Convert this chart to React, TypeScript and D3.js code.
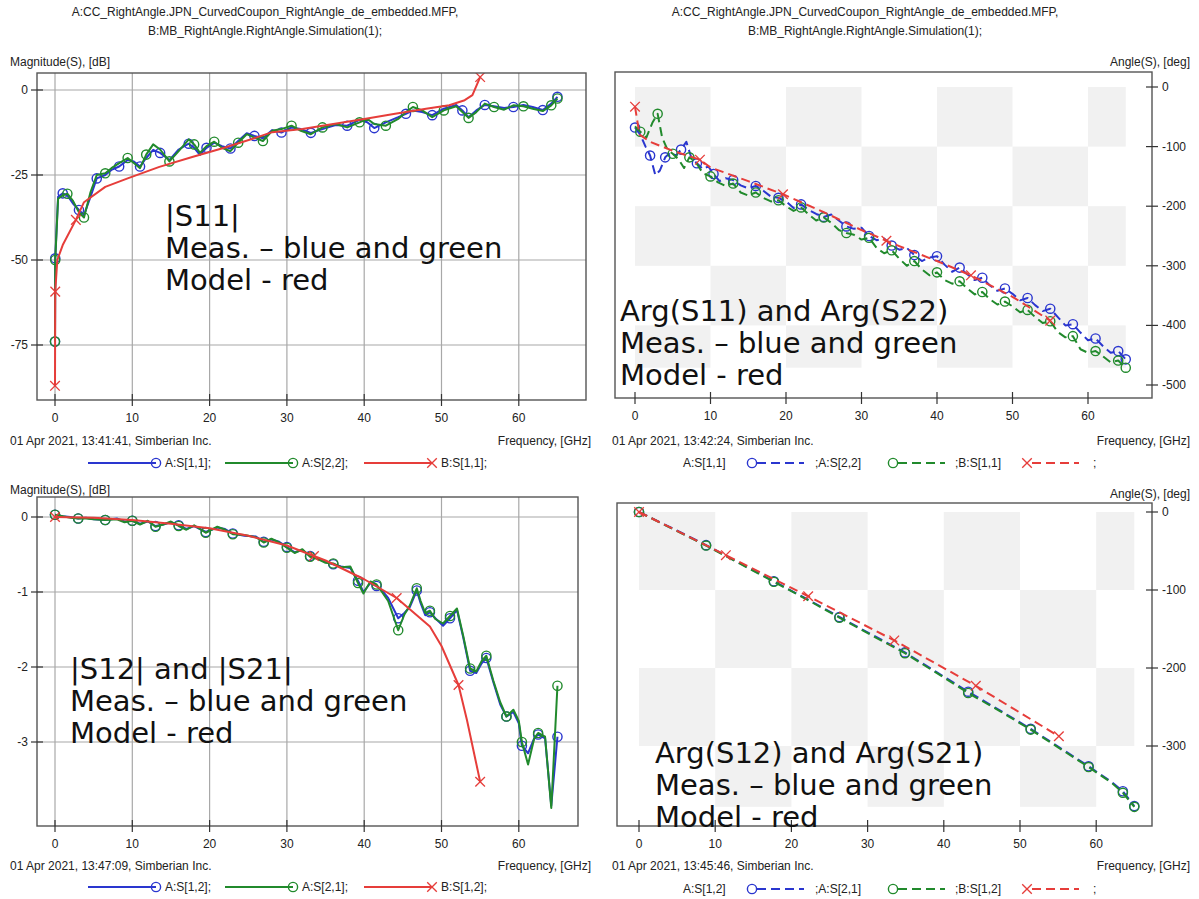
import React from "react";
import * as d3 from "d3";

type Pt = [number, number];

// ---------- text ----------
const titleA = "A:CC_RightAngle.JPN_CurvedCoupon_RightAngle_de_embedded.MFP,";
const titleB = "B:MB_RightAngle.RightAngle.Simulation(1);";
const stamps = [
  "01 Apr 2021, 13:41:41, Simberian Inc.",
  "01 Apr 2021, 13:42:24, Simberian Inc.",
  "01 Apr 2021, 13:47:09, Simberian Inc.",
  "01 Apr 2021, 13:45:46, Simberian Inc.",
];

// ---------- ticks ----------
const freqTicks = [0, 10, 20, 30, 40, 50, 60];
const s11MagTicks = [0, -25, -50, -75];
const s21MagTicks = [0, -1, -2, -3];
const argReflTicks = [0, -100, -200, -300, -400, -500];
const argTransTicks = [0, -100, -200, -300];

// ---------- |S11|, |S22| (dB) ----------
const magS11Meas: Pt[] = [
  [0, -74], [0.03, -49.5], [0.4, -31.4], [1.0, -30.4], [1.6, -31], [2.3, -33.3], [3.1, -35.3], [3.75, -36.8],
  [4.6, -31.4], [5.4, -26], [6.5, -25], [7.3, -23.5], [8.3, -22.5], [9.4, -20.6], [10.2, -21], [11.0, -22.5],
  [11.8, -20], [12.7, -17.6], [13.6, -18.5], [14.8, -20.6], [16, -17.5], [17.3, -15.8], [18.0, -17], [18.75, -19.1],
  [19.6, -17], [20.6, -15.5], [21.6, -16.5], [22.7, -17.2], [23.7, -15], [24.8, -12.7], [25.8, -13.5], [26.9, -14.2],
  [28.1, -11.8], [29.3, -12.5], [30.6, -11], [31.8, -11.5], [33.1, -12.6], [34.6, -11.5], [36.3, -10.3], [37.8, -10.5],
  [39.4, -8.8], [40.4, -9.5], [41.3, -11.2], [42.8, -9.5], [44.4, -8], [45.4, -7], [46.3, -6], [47.5, -6.5],
  [48.8, -7.4], [50.3, -5.5], [51.9, -4.4], [52.7, -6], [53.5, -8], [54.5, -6], [55.6, -4.4], [56.8, -4.8],
  [58.1, -5.3], [59.3, -5], [60.6, -4.4], [61.8, -5], [63.1, -5.9], [64.2, -4], [65, -2],
];
const magS22Meas: Pt[] = [
  [0, -74], [0.03, -50], [0.4, -32], [1.0, -31], [1.6, -30.5], [2.3, -32.5], [3.1, -36], [3.75, -37.5],
  [4.6, -30], [5.4, -25], [6.5, -24.5], [7.3, -23], [8.3, -21.5], [9.4, -20], [10.2, -21.5], [11.0, -23],
  [11.8, -19], [12.7, -16], [13.6, -17.5], [14.8, -21], [16, -18], [17.3, -14.5], [18.0, -16], [18.75, -18.5],
  [19.6, -16.5], [20.6, -15.2], [21.6, -17], [22.7, -18], [23.7, -15.5], [24.8, -13], [25.8, -14], [26.9, -15],
  [28.1, -12], [29.3, -11.5], [30.6, -10.5], [31.8, -12], [33.1, -13], [34.6, -11], [36.3, -10], [37.8, -11],
  [39.4, -9.5], [40.4, -8.5], [41.3, -10], [42.8, -10.5], [44.4, -8.5], [45.4, -6.5], [46.3, -5], [47.5, -6],
  [48.8, -8], [50.3, -6], [51.9, -4.8], [52.7, -6.5], [53.5, -8.2], [54.5, -6.5], [55.6, -4], [56.8, -5],
  [58.1, -5.8], [59.3, -4.5], [60.6, -4.8], [61.8, -5.5], [63.1, -6.2], [64.2, -4.5], [65, -2.5],
];
const magS11Model: Pt[] = [
  [0, -87], [0.03, -59.3], [0.3, -50], [1.0, -45.6], [2.7, -38.2], [3.75, -33], [6.5, -28.5], [9.4, -26],
  [13.5, -22.6], [17.75, -19.7], [21.9, -17], [26, -14], [28.1, -12.4], [32, -11.5], [36, -10], [40, -8.5],
  [44, -7], [48, -5.5], [51, -4.5], [53, -3], [54, -1.5], [55, 3.8],
];
const magS11ModelMarks = [0, 1, 4, 21];

// ---------- Arg(S11), Arg(S22) (deg) ----------
const argS11Meas: Pt[] = [
  [0, -68], [0.7, -80], [1.4, -100], [2.0, -115], [2.7, -148], [3.3, -140], [4.0, -118], [4.7, -110],
  [5.4, -115], [6.1, -105], [6.8, -92], [7.5, -120], [8.2, -128], [9.0, -138], [9.7, -133], [10.4, -146],
  [11.2, -158], [12, -153], [13, -156], [14, -165], [15, -170], [16, -166], [17, -174], [18, -184],
  [19, -186], [20, -192], [21, -203], [22, -197], [23, -206], [24, -213], [25, -218], [26, -214],
  [27, -224], [28, -234], [29, -238], [30, -236], [31, -250], [32, -257], [33, -254], [34, -266],
  [35, -273], [36, -270], [37, -282], [38, -292], [39, -286], [40, -284], [41, -298], [42, -310],
  [43, -303], [44, -314], [45, -324], [46, -320], [47, -333], [48, -342], [49, -338], [50, -347],
  [51, -358], [52, -354], [53, -366], [54, -376], [55, -372], [56, -386], [57, -400], [58, -398],
  [59, -412], [60, -425], [61, -422], [62, -435], [63, -446], [64, -443], [65, -457],
];
const argS22Meas: Pt[] = [
  [0, -66], [0.7, -75], [1.5, -85], [2.3, -60], [3.0, -45], [3.6, -85], [4.3, -105], [5.0, -112],
  [5.8, -122], [6.5, -136], [7.2, -118], [8, -125], [9, -145], [10, -150], [11, -160], [12, -166],
  [13, -162], [14, -177], [15, -182], [16, -177], [17, -186], [18, -192], [19, -190], [20, -200],
  [21, -208], [22, -202], [23, -214], [24, -224], [25, -219], [26, -228], [27, -240], [28, -245],
  [29, -248], [30, -256], [31, -253], [32, -270], [33, -279], [34, -274], [35, -288], [36, -300],
  [37, -292], [38, -306], [39, -316], [40, -311], [41, -324], [42, -330], [43, -326], [44, -338],
  [45, -348], [46, -344], [47, -356], [48, -365], [49, -360], [50, -368], [51, -378], [52, -374],
  [53, -386], [54, -396], [55, -393], [56, -411], [57, -420], [58, -418], [59, -440], [60, -446],
  [61, -443], [62, -452], [63, -462], [64, -459], [65, -471],
];
const argS11Model: Pt[] = [
  [0, -33], [0.6, -80], [2, -92], [5, -107], [8.6, -122], [10, -135], [15, -158], [19.6, -180],
  [25, -210], [30, -240], [33.3, -258], [35, -267], [40, -292], [44.5, -316], [50, -352], [55, -392],
];
const argS11ModelMarks = [0, 4, 7, 10, 13, 15];

// ---------- |S12|, |S21| (dB) ----------
const magS12Meas: Pt[] = [
  [0, 0.03], [1, 0.01], [2, 0], [3, -0.02], [4, -0.01], [5, -0.03], [6.5, -0.04], [8, -0.02],
  [9, -0.06], [10, -0.05], [11, -0.09], [12, -0.06], [13, -0.12], [14, -0.1], [15, -0.07], [16, -0.11],
  [17, -0.16], [18, -0.12], [19.5, -0.2], [21, -0.14], [22, -0.16], [23, -0.22], [24.5, -0.25], [26, -0.26],
  [27, -0.33], [28, -0.3], [29, -0.33], [30, -0.4], [31, -0.47], [32, -0.44], [33, -0.52], [34, -0.55],
  [35, -0.6], [36, -0.63], [37, -0.66], [38.2, -0.68], [39.2, -0.85], [39.9, -1.0], [40.8, -0.88], [41.6, -0.92],
  [42.3, -0.98], [43.1, -1.08], [44.4, -1.35], [45.2, -1.28], [45.9, -1.2], [46.8, -0.98], [47.3, -1.15], [47.9, -1.31],
  [48.5, -1.27], [49.2, -1.35], [50.2, -1.45], [51.1, -1.35], [52, -1.24], [52.8, -1.6], [53.7, -2.05], [54.5, -2.08],
  [55.2, -1.95], [55.8, -1.88], [56.7, -2.2], [57.6, -2.5], [58.4, -2.66], [59.3, -2.6], [60, -2.75], [60.4, -3.05],
  [61.2, -3.15], [62, -2.95], [62.5, -2.9], [63.4, -2.95], [64.2, -3.85], [65, -2.93],
];
const magS21Meas: Pt[] = [
  [0, 0.03], [1, 0.01], [2, -0.01], [3, -0.02], [4, -0.02], [5, -0.03], [6.5, -0.04], [8, -0.03],
  [9, -0.07], [10, -0.05], [11, -0.1], [12, -0.05], [13, -0.13], [14, -0.1], [15, -0.06], [16, -0.12],
  [17, -0.17], [18, -0.11], [19.5, -0.21], [21, -0.13], [22, -0.17], [23, -0.23], [24.5, -0.24], [26, -0.27],
  [27, -0.34], [28, -0.29], [29, -0.34], [30, -0.41], [31, -0.48], [32, -0.43], [33, -0.53], [34, -0.56],
  [35, -0.61], [36, -0.62], [37, -0.67], [38.2, -0.66], [39.2, -0.88], [39.9, -1.02], [40.8, -0.86], [41.6, -0.9],
  [42.3, -1.0], [43.1, -1.12], [44.4, -1.51], [45.2, -1.3], [45.9, -1.18], [46.8, -0.95], [47.3, -1.12], [47.9, -1.28],
  [48.5, -1.25], [49.2, -1.36], [50.2, -1.42], [51.1, -1.32], [52, -1.22], [52.8, -1.58], [53.7, -2.02], [54.5, -2.06],
  [55.2, -1.92], [55.8, -1.85], [56.7, -2.18], [57.6, -2.47], [58.4, -2.66], [59.3, -2.57], [60, -2.72], [60.4, -3.0],
  [61.2, -3.3], [62, -2.95], [62.5, -2.88], [63.4, -2.93], [64.2, -3.88], [65, -2.25],
];
const magS12Model: Pt[] = [
  [0, 0], [5, -0.01], [10, -0.04], [15, -0.09], [20, -0.15], [25, -0.25], [30, -0.38], [33.5, -0.52],
  [35, -0.58], [40, -0.83], [44.2, -1.08], [48.5, -1.46], [50, -1.72], [52.2, -2.24], [53.3, -2.71], [55, -3.53],
];
const magS12ModelMarks = [0, 7, 10, 13, 15];

// ---------- Arg(S12), Arg(S21) (deg) ----------
const argS12Meas: Pt[] = [
  [0, 0], [4.4, -21], [8.8, -42.5], [13.2, -65.5], [17.7, -88.8], [22, -111.5], [26.3, -134.6], [30.6, -157.5],
  [34.9, -180], [39, -205], [43.2, -230.4], [47.3, -254], [51.4, -278], [55.2, -302], [59, -326], [62, -346],
  [63.5, -358], [65, -377],
];
const argS21Meas: Pt[] = [
  [0, 0], [4.4, -21.5], [8.8, -43], [13.2, -66], [17.7, -89.5], [22, -112], [26.3, -135.5], [30.6, -158.5],
  [34.9, -181], [39, -206], [43.2, -232], [47.3, -255], [51.4, -279], [55.2, -303], [59, -327], [62, -347],
  [63.5, -360], [65, -378],
];
const argS12Model: Pt[] = [
  [0, 0], [11.4, -55.4], [22.2, -108], [33.5, -164.6], [44.2, -222.9], [55.1, -287.5],
];
const argS12ModelMarks = [0, 1, 2, 3, 4, 5];

// ---------- styling ----------
const BLUE = "#2a36cf";
const GREEN = "#218a2c";
const RED = "#e63d3a";
const SMALL_FONT = "'Liberation Sans', Arial, sans-serif";
const BIG_FONT = "'DejaVu Sans', Verdana, sans-serif";

type Series = {
  data: Pt[];
  color: string;
  marker: "o" | "x";
  marks: number[];
};

// indices of the points that carry a marker: every `step`-th one plus the last
const every = (data: Pt[], step: number, start: number, extra: number[] = []) =>
  Array.from(
    new Set(
      data
        .map((_, i) => i)
        .filter((i) => i >= start && (i - start) % step === 0)
        .concat(extra, [data.length - 1])
    )
  );

type PanelCfg = {
  id: string;
  box: [number, number, number, number];
  x0: number;
  k: number;
  yDom: [number, number];
  yRng: [number, number];
  yTicks: number[];
  axisSide: "left" | "right";
  grid: boolean;
  checker: boolean;
  dashed: boolean;
  series: Series[];
};

function Marker({ x, y, kind, color }: { x: number; y: number; kind: "o" | "x"; color: string }) {
  if (kind === "o") return <circle cx={x} cy={y} r={4.6} fill="none" stroke={color} strokeWidth={1.4} />;
  const s = 4.8;
  return (
    <g stroke={color} strokeWidth={1.3}>
      <line x1={x - s} y1={y - s} x2={x + s} y2={y + s} />
      <line x1={x - s} y1={y + s} x2={x + s} y2={y - s} />
    </g>
  );
}

function Panel({ cfg }: { cfg: PanelCfg }) {
  const [bx0, by0, bx1, by1] = cfg.box;
  const xs = d3.scaleLinear().domain([0, 60]).range([cfg.x0, cfg.x0 + 60 * cfg.k]);
  const ys = d3.scaleLinear().domain(cfg.yDom).range(cfg.yRng);
  const line = d3.line<Pt>().x((d) => xs(d[0])).y((d) => ys(d[1]));
  const clipId = `clip-${cfg.id}`;

  const checkerCells: JSX.Element[] = [];
  if (cfg.checker) {
    const all = cfg.series.flatMap((s) => s.data);
    const fMax = d3.max(all, (d) => d[0]) as number;
    const vMin = d3.min(all, (d) => d[1]) as number;
    const colEdges = d3.range(0, fMax, 10).concat([fMax]);
    const rowEdges = d3.range(0, vMin, -100).concat([vMin]);
    for (let i = 0; i < colEdges.length - 1; i++) {
      for (let j = 0; j < rowEdges.length - 1; j++) {
        if ((i + j) % 2 !== 0) continue;
        const xa = xs(colEdges[i]);
        const xb = xs(colEdges[i + 1]);
        const ya = ys(rowEdges[j]);
        const yb = ys(rowEdges[j + 1]);
        checkerCells.push(
          <rect key={`c${i}-${j}`} x={xa} y={ya} width={xb - xa} height={yb - ya} fill="#f1f1f1" />
        );
      }
    }
  }

  return (
    <g>
      <defs>
        <clipPath id={clipId}>
          <rect x={bx0} y={by0} width={bx1 - bx0} height={by1 - by0} />
        </clipPath>
      </defs>
      <rect x={bx0} y={by0} width={bx1 - bx0} height={by1 - by0} fill="#fff" />
      {checkerCells}
      {cfg.grid && (
        <g stroke="#a8a8a8" strokeWidth={1.2}>
          {freqTicks.map((t) => (
            <line key={`gx${t}`} x1={xs(t)} x2={xs(t)} y1={by0} y2={by1} />
          ))}
          {cfg.yTicks.map((t) => (
            <line key={`gy${t}`} x1={bx0} x2={bx1} y1={ys(t)} y2={ys(t)} />
          ))}
        </g>
      )}
      <g clipPath={`url(#${clipId})`}>
        {cfg.series.map((s, si) => (
          <g key={si}>
            <path
              d={line(s.data) || ""}
              fill="none"
              stroke={s.color}
              strokeWidth={2}
              strokeDasharray={cfg.dashed ? "9 5" : undefined}
              strokeLinejoin="round"
            />
            {s.marks.map((i) => (
              <Marker key={i} x={xs(s.data[i][0])} y={ys(s.data[i][1])} kind={s.marker} color={s.color} />
            ))}
          </g>
        ))}
      </g>
      <rect x={bx0} y={by0} width={bx1 - bx0} height={by1 - by0} fill="none" stroke="#555" strokeWidth={1.4} />
      {/* frequency axis */}
      <g stroke="#333" strokeWidth={1.2}>
        {freqTicks.map((t) => (
          <line key={`tx${t}`} x1={xs(t)} x2={xs(t)} y1={by1 - 6} y2={by1 + 6} />
        ))}
      </g>
      <g fontFamily={SMALL_FONT} fontSize={12} fill="#222" textAnchor="middle">
        {freqTicks.map((t) => (
          <text key={`lx${t}`} x={xs(t)} y={by1 + 22}>
            {t}
          </text>
        ))}
      </g>
      {/* value axis */}
      <g stroke="#333" strokeWidth={1.2}>
        {cfg.yTicks.map((t) => {
          const xe = cfg.axisSide === "left" ? bx0 : bx1;
          return <line key={`ty${t}`} x1={xe - 6} x2={xe + 6} y1={ys(t)} y2={ys(t)} />;
        })}
      </g>
      <g
        fontFamily={SMALL_FONT}
        fontSize={12}
        fill="#222"
        textAnchor={cfg.axisSide === "left" ? "end" : "start"}
      >
        {cfg.yTicks.map((t) => (
          <text key={`ly${t}`} x={cfg.axisSide === "left" ? bx0 - 9 : bx1 + 10} y={ys(t) + 4}>
            {t}
          </text>
        ))}
      </g>
    </g>
  );
}

const panels: PanelCfg[] = [
  {
    id: "tl",
    box: [37, 73, 586, 400],
    x0: 55,
    k: 7.73,
    yDom: [0, -75],
    yRng: [90, 345],
    yTicks: s11MagTicks,
    axisSide: "left",
    grid: true,
    checker: false,
    dashed: false,
    series: [
      { data: magS11Meas, color: BLUE, marker: "o", marks: every(magS11Meas, 3, 0, [1]) },
      { data: magS22Meas, color: GREEN, marker: "o", marks: every(magS22Meas, 3, 1, [0]) },
      { data: magS11Model, color: RED, marker: "x", marks: magS11ModelMarks },
    ],
  },
  {
    id: "tr",
    box: [615, 72, 1152, 398],
    x0: 635,
    k: 7.55,
    yDom: [0, -500],
    yRng: [87, 385],
    yTicks: argReflTicks,
    axisSide: "right",
    grid: false,
    checker: true,
    dashed: true,
    series: [
      { data: argS11Meas, color: BLUE, marker: "o", marks: every(argS11Meas, 3, 0) },
      { data: argS22Meas, color: GREEN, marker: "o", marks: every(argS22Meas, 3, 1) },
      { data: argS11Model, color: RED, marker: "x", marks: argS11ModelMarks },
    ],
  },
  {
    id: "bl",
    box: [37, 497, 578, 826],
    x0: 55,
    k: 7.73,
    yDom: [0, -3],
    yRng: [517, 742],
    yTicks: s21MagTicks,
    axisSide: "left",
    grid: true,
    checker: false,
    dashed: false,
    series: [
      { data: magS12Meas, color: BLUE, marker: "o", marks: every(magS12Meas, 3, 0) },
      { data: magS21Meas, color: GREEN, marker: "o", marks: every(magS21Meas, 3, 0) },
      { data: magS12Model, color: RED, marker: "x", marks: magS12ModelMarks },
    ],
  },
  {
    id: "br",
    box: [617, 503, 1152, 826],
    x0: 639,
    k: 7.62,
    yDom: [0, -300],
    yRng: [512, 746],
    yTicks: argTransTicks,
    axisSide: "right",
    grid: false,
    checker: true,
    dashed: true,
    series: [
      { data: argS12Meas, color: BLUE, marker: "o", marks: every(argS12Meas, 2, 0) },
      { data: argS21Meas, color: GREEN, marker: "o", marks: every(argS21Meas, 2, 0) },
      { data: argS12Model, color: RED, marker: "x", marks: argS12ModelMarks },
    ],
  },
];

// legend for solid-line panels: line, marker, label
function LegendSolid({ x, y, labels }: { x: number; y: number; labels: string[] }) {
  const colors = [BLUE, GREEN, RED];
  const kinds: ("o" | "x")[] = ["o", "o", "x"];
  const starts = [0, 137, 276];
  return (
    <g>
      {labels.map((lab, i) => {
        const lx = x + starts[i];
        return (
          <g key={i}>
            <line x1={lx} x2={lx + 68} y1={y} y2={y} stroke={colors[i]} strokeWidth={2.2} />
            <Marker x={lx + 68} y={y} kind={kinds[i]} color={colors[i]} />
            <text x={lx + 77} y={y + 4} fontFamily={SMALL_FONT} fontSize={12} fill="#222">
              {lab}
            </text>
          </g>
        );
      })}
    </g>
  );
}

// legend for dashed panels: label, marker, dashed line
function LegendDashed({ x, y, labels }: { x: number; y: number; labels: string[] }) {
  const colors = [BLUE, GREEN, RED];
  const kinds: ("o" | "x")[] = ["o", "o", "x"];
  const starts = [0, 132, 272];
  const markAt = [69, 78, 72];
  return (
    <g>
      {labels.map((lab, i) => {
        const lx = x + starts[i];
        return (
          <g key={i}>
            <text x={lx} y={y + 4} fontFamily={SMALL_FONT} fontSize={12} fill="#222">
              {lab}
            </text>
            <Marker x={lx + markAt[i]} y={y} kind={kinds[i]} color={colors[i]} />
            <line
              x1={lx + markAt[i] + 5}
              x2={lx + markAt[i] + 52}
              y1={y}
              y2={y}
              stroke={colors[i]}
              strokeWidth={2.2}
              strokeDasharray="9 5"
            />
          </g>
        );
      })}
      <text x={x + 410} y={y + 4} fontFamily={SMALL_FONT} fontSize={12} fill="#222">
        ;
      </text>
    </g>
  );
}

function Note({ x, y, lines }: { x: number; y: number; lines: string[] }) {
  return (
    <g fontFamily={BIG_FONT} fontSize={29} fill="#111">
      {lines.map((l, i) => (
        <text key={i} x={x} y={y + i * 32}>
          {l}
        </text>
      ))}
    </g>
  );
}

export default function App() {
  const small = { fontFamily: SMALL_FONT, fontSize: 12, fill: "#222" } as const;
  return (
    <svg
      width={1199}
      height={899}
      viewBox="0 0 1199 899"
      style={{ position: "absolute", left: 0, top: 0, background: "#fff" }}
    >
      <rect x={0} y={0} width={1199} height={899} fill="#fff" />
      {/* titles */}
      <text x={265} y={16} textAnchor="middle" {...small}>{titleA}</text>
      <text x={265} y={35} textAnchor="middle" {...small}>{titleB}</text>
      <text x={865} y={16} textAnchor="middle" {...small}>{titleA}</text>
      <text x={865} y={35} textAnchor="middle" {...small}>{titleB}</text>

      {/* axis captions */}
      <text x={10} y={66} {...small}>Magnitude(S), [dB]</text>
      <text x={1190} y={66} textAnchor="end" {...small}>Angle(S), [deg]</text>
      <text x={10} y={494} {...small}>Magnitude(S), [dB]</text>
      <text x={1190} y={498} textAnchor="end" {...small}>Angle(S), [deg]</text>

      {panels.map((p) => (
        <Panel key={p.id} cfg={p} />
      ))}

      {/* footers */}
      <text x={10} y={445} {...small}>{stamps[0]}</text>
      <text x={591} y={445} textAnchor="end" {...small}>Frequency, [GHz]</text>
      <text x={612} y={445} {...small}>{stamps[1]}</text>
      <text x={1190} y={445} textAnchor="end" {...small}>Frequency, [GHz]</text>
      <text x={10} y={870} {...small}>{stamps[2]}</text>
      <text x={591} y={870} textAnchor="end" {...small}>Frequency, [GHz]</text>
      <text x={612} y={870} {...small}>{stamps[3]}</text>
      <text x={1190} y={870} textAnchor="end" {...small}>Frequency, [GHz]</text>

      <LegendSolid x={88} y={463} labels={["A:S[1,1];", "A:S[2,2];", "B:S[1,1];"]} />
      <LegendDashed x={683} y={463} labels={["A:S[1,1]", ";A:S[2,2]", ";B:S[1,1]"]} />
      <LegendSolid x={88} y={887} labels={["A:S[1,2];", "A:S[2,1];", "B:S[1,2];"]} />
      <LegendDashed x={683} y={889} labels={["A:S[1,2]", ";A:S[2,1]", ";B:S[1,2]"]} />

      <Note x={165} y={226} lines={["|S11|", "Meas. \u2013 blue and green", "Model - red"]} />
      <Note x={620} y={321} lines={["Arg(S11) and Arg(S22)", "Meas. \u2013 blue and green", "Model - red"]} />
      <Note x={70} y={679} lines={["|S12| and |S21|", "Meas. \u2013 blue and green", "Model - red"]} />
      <Note x={655} y={763} lines={["Arg(S12) and Arg(S21)", "Meas. \u2013 blue and green", "Model - red"]} />
    </svg>
  );
}
